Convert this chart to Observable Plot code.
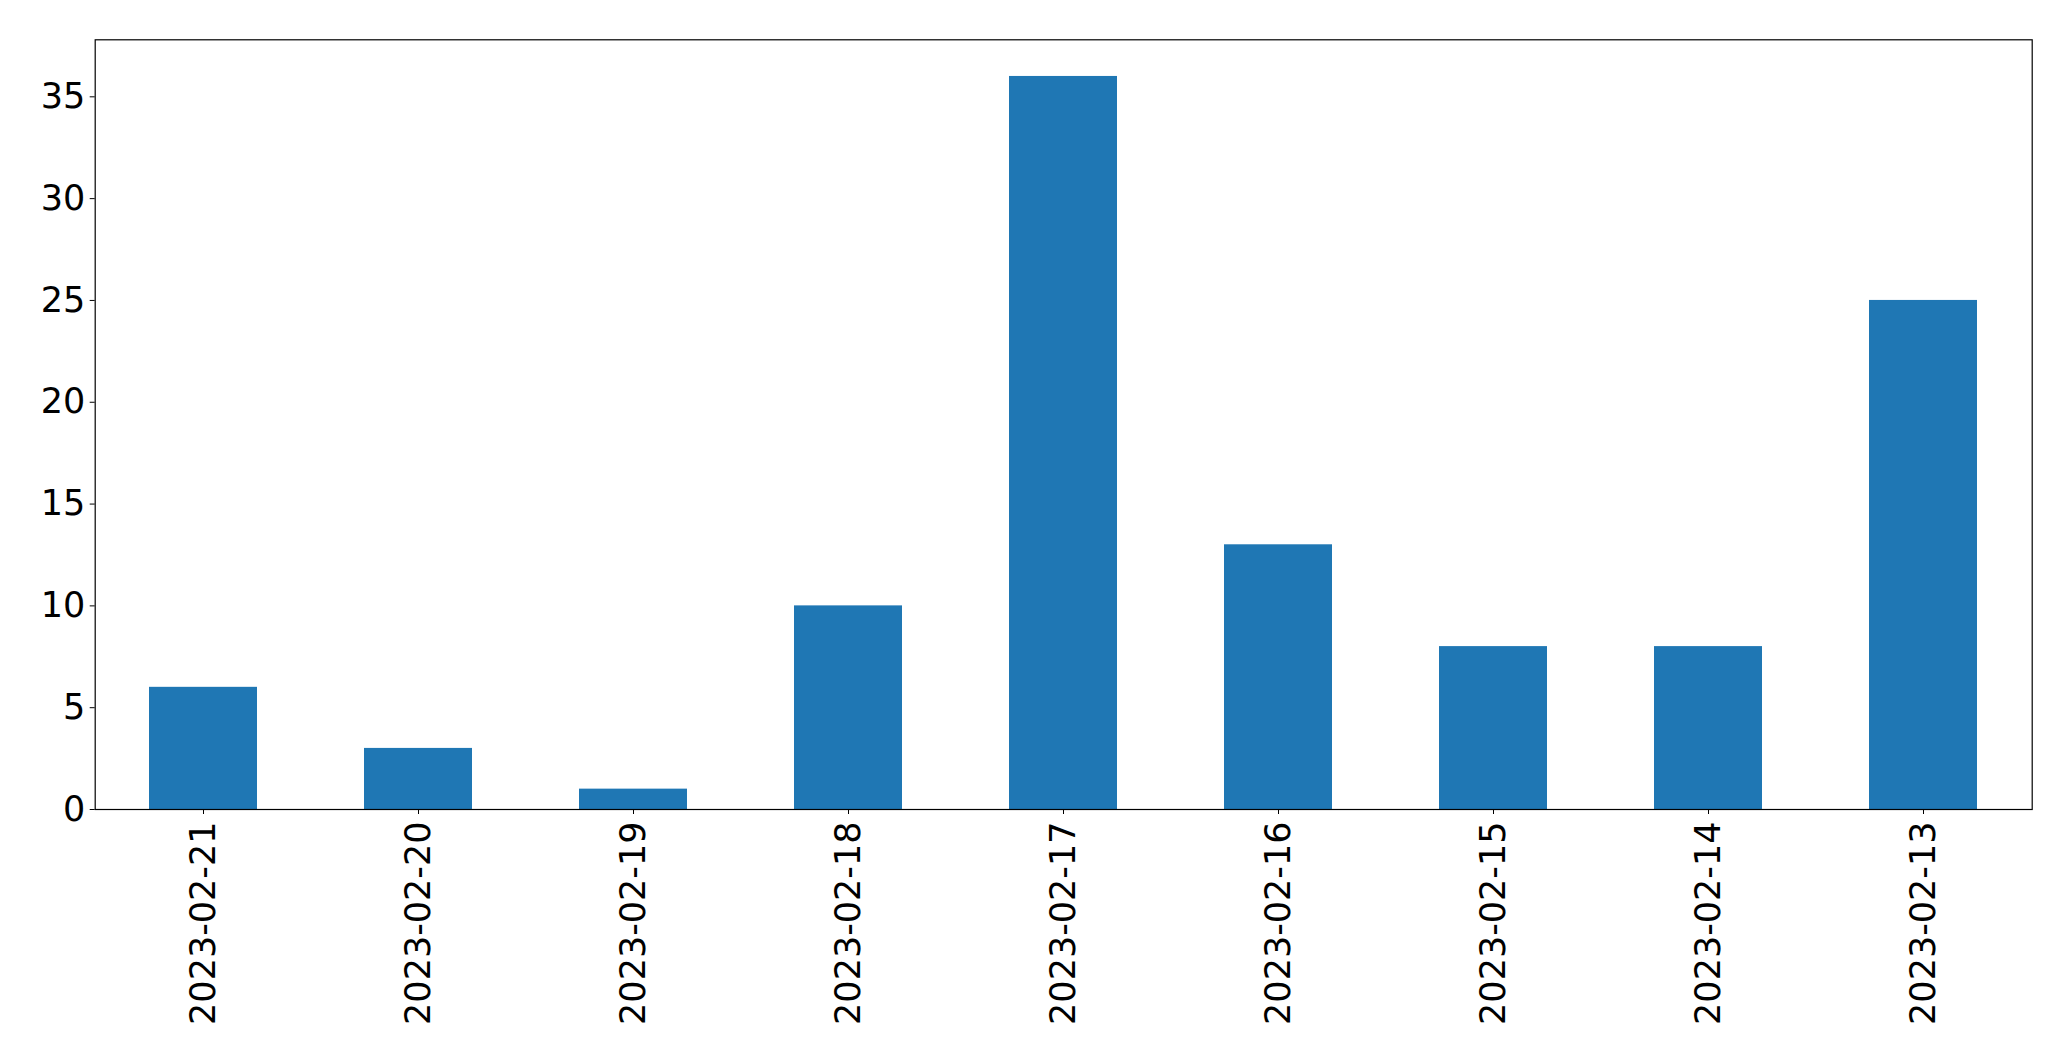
<!DOCTYPE html>
<html>
<head>
<meta charset="utf-8">
<script src="https://cdn.jsdelivr.net/npm/d3@7"></script>
<script src="https://cdn.jsdelivr.net/npm/@observablehq/plot@0.6"></script>
<style>
  html, body { margin: 0; padding: 0; background: #fff; }
  #chart svg { display: block; }
</style>
</head>
<body>
<div id="chart"></div>
<script>
const dates = ["2023-02-21", "2023-02-20", "2023-02-19", "2023-02-18", "2023-02-17", "2023-02-16", "2023-02-15", "2023-02-14", "2023-02-13"];
const counts = [6, 3, 1, 10, 36, 13, 8, 8, 25];
const yTicks = [0, 5, 10, 15, 20, 25, 30, 35];

const data = dates.map((d, i) => ({date: d, count: counts[i]}));

const chart = Plot.plot({
  width: 2071,
  height: 1061,
  marginLeft: 94.7,
  marginRight: 39.3,
  marginTop: 39.3,
  marginBottom: 252,
  style: {fontFamily: "DejaVu Sans", fontSize: "35px", color: "black", background: "white", overflow: "visible"},
  x: {type: "band", domain: dates, paddingInner: 0.5, paddingOuter: 0.25, label: null},
  y: {domain: [0, 37.8], label: null},
  marks: [
    Plot.barY(data, {x: "date", y: "count", fill: "#1f77b4"}),
    Plot.frame({stroke: "black", strokeWidth: 1.2}),
    Plot.axisY({ticks: yTicks, tickSize: 5, tickPadding: 5, label: null, fontSize: 35}),
    Plot.axisX({tickSize: 5, tickPadding: 7, tickRotate: -90, label: null, fontSize: 35})
  ]
});
document.getElementById("chart").appendChild(chart);
</script>
</body>
</html>
